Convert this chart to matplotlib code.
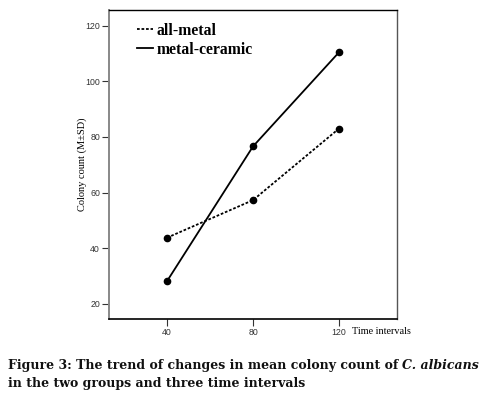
import matplotlib
matplotlib.use("Agg")
from matplotlib import pyplot as plt

# data
time_points = [40, 80, 120]
all_metal = [43.8, 57.3, 83.0]
metal_ceramic = [28.2, 76.6, 110.4]
y_ticks = [20, 40, 60, 80, 100, 120]

fig = plt.figure(figsize=(4.91, 3.95), dpi=100)
ax = fig.add_axes([0.222, 0.1924, 0.5866, 0.7823])

ax.plot(time_points, all_metal, color='black', linewidth=1.3,
        linestyle=(0, (1.5, 1.0)), marker='o', markersize=4.5, label='all-metal')
ax.plot(time_points, metal_ceramic, color='black', linewidth=1.3,
        linestyle='-', marker='o', markersize=4.5, label='metal-ceramic')

ax.set_xlim(13, 147)
ax.set_ylim(14.6, 125.6)
ax.set_xticks(time_points)
ax.set_yticks(y_ticks)
ax.tick_params(labelsize=6.3, colors='#333333', length=5, width=0.8, pad=1.5)
for lab in ax.get_xticklabels() + ax.get_yticklabels():
    lab.set_family('Liberation Sans')

ax.spines['left'].set_color('#888888')
ax.spines['left'].set_linewidth(1.4)
ax.spines['bottom'].set_linewidth(1.2)
ax.spines['top'].set_linewidth(1.0)
ax.spines['right'].set_linewidth(1.0)
ax.spines['right'].set_color('#555555')

ax.set_ylabel('Colony count (M\u00b1SD)', family='Liberation Serif', fontsize=7.5)
ax.yaxis.set_label_coords(-0.076, 0.5)
ax.text(0.844, -0.027, 'Time intervals', transform=ax.transAxes,
        family='Liberation Serif', fontsize=7.3, va='top', ha='left')

leg = ax.legend(loc='upper left', bbox_to_anchor=(0.06, 0.995), frameon=False,
                handlelength=1.0, handletextpad=0.2, labelspacing=0.2,
                borderaxespad=0.3,
                prop={'family': 'Liberation Serif', 'weight': 'bold', 'size': 11.3})
for h in leg.legend_handles:
    h.set_marker('')

# caption, with the species name in italics
cap = dict(fontsize=9, weight='bold', family='DejaVu Serif', color='#111111')
y1, y2 = 0.067, 0.021
fig.canvas.draw()
t1 = fig.text(0.016, y1, 'Figure 3: The trend of changes in mean colony count of ', **cap)
fig.canvas.draw()
bb = t1.get_window_extent()
x2 = bb.x1 / fig.bbox.width
fig.text(x2, y1, 'C. albicans', style='italic', **cap)
fig.text(0.016, y2, 'in the two groups and three time intervals', **cap)

fig.savefig('out.png', dpi=100)
